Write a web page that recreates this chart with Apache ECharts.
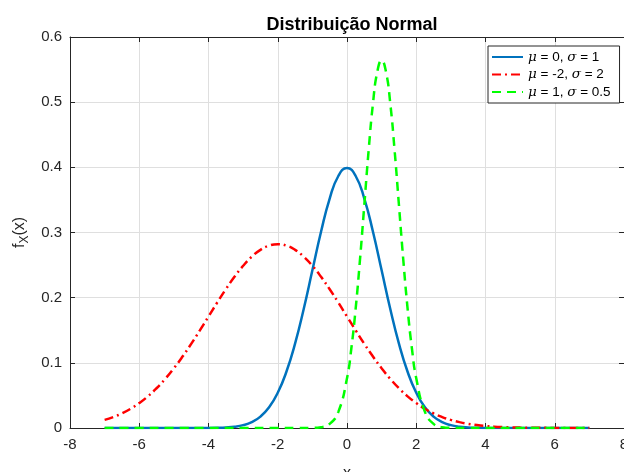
<!DOCTYPE html>
<html>
<head>
<meta charset="utf-8">
<script src="https://cdn.jsdelivr.net/npm/echarts@6/dist/echarts.min.js"></script>
<style>
  html, body { margin: 0; padding: 0; background: #fff; }
  #chart { width: 624px; height: 472px; }
</style>
</head>
<body>
<div id="chart"></div>
<script>
// x grid shared by the two wider curves
const xs = [-7, -6.75, -6.5, -6.25, -6, -5.75, -5.5, -5.25, -5, -4.75, -4.5, -4.25,
  -4, -3.75, -3.5, -3.25, -3, -2.75, -2.5, -2.25, -2, -1.75, -1.5, -1.25,
  -1, -0.75, -0.5, -0.25, 0, 0.25, 0.5, 0.75, 1, 1.25, 1.5, 1.75,
  2, 2.25, 2.5, 2.75, 3, 3.25, 3.5, 3.75, 4, 4.25, 4.5, 4.75,
  5, 5.25, 5.5, 5.75, 6, 6.25, 6.5, 6.75, 7];

// mu = 0, sigma = 1
const blueY = [0, 0, 0, 0, 0, 0, 0, 0, 0, 0, 0, 0,
  0.0001, 0.0004, 0.0009, 0.0020, 0.0044, 0.0091, 0.0175, 0.0317, 0.0540, 0.0863, 0.1295, 0.1826,
  0.2420, 0.3011, 0.3521, 0.3867, 0.3989, 0.3867, 0.3521, 0.3011, 0.2420, 0.1826, 0.1295, 0.0863,
  0.0540, 0.0317, 0.0175, 0.0091, 0.0044, 0.0020, 0.0009, 0.0004, 0.0001, 0, 0, 0,
  0, 0, 0, 0, 0, 0, 0, 0, 0];

// mu = -2, sigma = 2
const redY = [0.0124, 0.0168, 0.0224, 0.0295, 0.0382, 0.0486, 0.0610, 0.0753, 0.0916, 0.1096, 0.1291, 0.1498,
  0.1711, 0.1924, 0.2129, 0.2320, 0.2489, 0.2629, 0.2734, 0.2799, 0.2821, 0.2799, 0.2734, 0.2629,
  0.2489, 0.2320, 0.2129, 0.1924, 0.1711, 0.1498, 0.1291, 0.1096, 0.0916, 0.0753, 0.0610, 0.0486,
  0.0382, 0.0295, 0.0224, 0.0168, 0.0124, 0.0090, 0.0064, 0.0045, 0.0031, 0.0021, 0.0014, 0.0009,
  0.0006, 0.0004, 0.0002, 0.0002, 0.0001, 0.0001, 0, 0, 0];

// mu = 1, sigma = 0.5 (finer steps around the narrow peak)
const greenX = [-7, -6, -5, -4, -3, -2, -1.5, -1, -0.75, -0.5, -0.25, 0,
  0.125, 0.25, 0.375, 0.5, 0.625, 0.75, 0.875, 1, 1.125, 1.25, 1.375, 1.5,
  1.625, 1.75, 1.875, 2, 2.25, 2.5, 2.75, 3, 3.5, 4, 5, 6, 7];
const greenY = [0, 0, 0, 0, 0, 0, 0, 0.0002, 0.0012, 0.0063, 0.0248, 0.0764,
  0.1220, 0.1832, 0.2583, 0.3422, 0.4259, 0.4979, 0.5468, 0.5642, 0.5468, 0.4979, 0.4259, 0.3422,
  0.2583, 0.1832, 0.1220, 0.0764, 0.0248, 0.0063, 0.0012, 0.0002, 0, 0, 0, 0, 0];

const seriesNames = ['mu0', 'mu-2', 'mu1'];
const legendLabels = {
  'mu0': '{g|\u03bc} = 0, {g|\u03c3} = 1',
  'mu-2': '{g|\u03bc} = -2, {g|\u03c3} = 2',
  'mu1': '{g|\u03bc} = 1, {g|\u03c3} = 0.5'
};

const font = '"Liberation Sans", Arial, Helvetica, sans-serif';
const ink = '#262626';

const zip = (a, b) => a.map((v, i) => [v, b[i]]);

const chart = echarts.init(document.getElementById('chart'));

const frameAxis = {
  axisLine: { show: true, onZero: false, lineStyle: { color: ink, width: 1 } },
  axisTick: { show: true, inside: true, length: 5, lineStyle: { color: ink } },
  axisLabel: { show: false },
  splitLine: { show: false }
};

chart.setOption({
  animation: false,
  title: {
    text: 'Distribui\u00e7\u00e3o Normal',
    left: 347,
    top: 11,
    textAlign: 'center',
    textStyle: { fontFamily: font, fontSize: 18, fontWeight: 'bold', color: '#000' }
  },
  legend: {
    data: seriesNames,
    orient: 'vertical',
    left: 488,
    top: 46,
    padding: [4, 9, 4, 3],
    itemWidth: 31,
    itemHeight: 14,
    itemGap: 3.5,
    borderColor: ink,
    borderWidth: 1,
    borderRadius: 0,
    backgroundColor: '#fff',
    itemStyle: { opacity: 0 },
    formatter: (name) => legendLabels[name],
    textStyle: {
      fontFamily: font, fontSize: 13.5, color: '#000',
      rich: { g: { fontFamily: '"DejaVu Serif", serif', fontStyle: 'italic', fontSize: 13.5, color: '#000' } }
    }
  },
  grid: { left: 70, top: 37, width: 554, height: 391, outerBoundsMode: 'none', containLabel: false },
  xAxis: [
    {
      type: 'value', min: -8, max: 8, interval: 2,
      name: 'x', nameLocation: 'middle', nameGap: 38,
      nameTextStyle: { fontFamily: font, fontSize: 16, color: ink },
      axisLine: { show: true, onZero: false, lineStyle: { color: ink, width: 1 } },
      axisTick: { show: true, inside: true, length: 5, lineStyle: { color: ink } },
      axisLabel: { fontFamily: font, fontSize: 15, color: ink, margin: 9 },
      splitLine: { show: true, lineStyle: { color: '#dfdfdf', width: 1 } }
    },
    Object.assign({ type: 'value', min: -8, max: 8, interval: 2, position: 'top' }, frameAxis)
  ],
  yAxis: [
    {
      type: 'value', min: 0, max: 0.6, interval: 0.1,
      name: '{f|f}{s|X}{f|(x)}', nameLocation: 'middle', nameGap: 38, nameRotate: 90,
      nameTextStyle: {
        color: ink,
        rich: {
          f: { fontFamily: font, fontSize: 16, color: ink },
          s: { fontFamily: font, fontSize: 12, color: ink, padding: [9, 0, 0, 0] }
        }
      },
      axisLine: { show: true, onZero: false, lineStyle: { color: ink, width: 1 } },
      axisTick: { show: true, inside: true, length: 5, lineStyle: { color: ink } },
      axisLabel: {
        fontFamily: font, fontSize: 15, color: ink, margin: 8,
        formatter: (v) => (v === 0 ? '0' : String(Math.round(v * 10) / 10))
      },
      splitLine: { show: true, lineStyle: { color: '#dfdfdf', width: 1 } }
    },
    Object.assign({ type: 'value', min: 0, max: 0.6, interval: 0.1, position: 'right' }, frameAxis)
  ],
  series: [
    {
      name: 'mu0', type: 'line', data: zip(xs, blueY),
      smooth: true, symbol: 'none',
      lineStyle: { color: '#0072BD', width: 2.5 },
      itemStyle: { color: '#0072BD' }
    },
    {
      name: 'mu-2', type: 'line', data: zip(xs, redY),
      smooth: true, symbol: 'none',
      lineStyle: { color: '#FF0000', width: 2.5, type: [9, 4, 2, 4] },
      itemStyle: { color: '#FF0000' }
    },
    {
      name: 'mu1', type: 'line', data: zip(greenX, greenY),
      smooth: true, symbol: 'none',
      lineStyle: { color: '#00FF00', width: 2.5, type: [9, 6] },
      itemStyle: { color: '#00FF00' }
    }
  ]
});
</script>
</body>
</html>
